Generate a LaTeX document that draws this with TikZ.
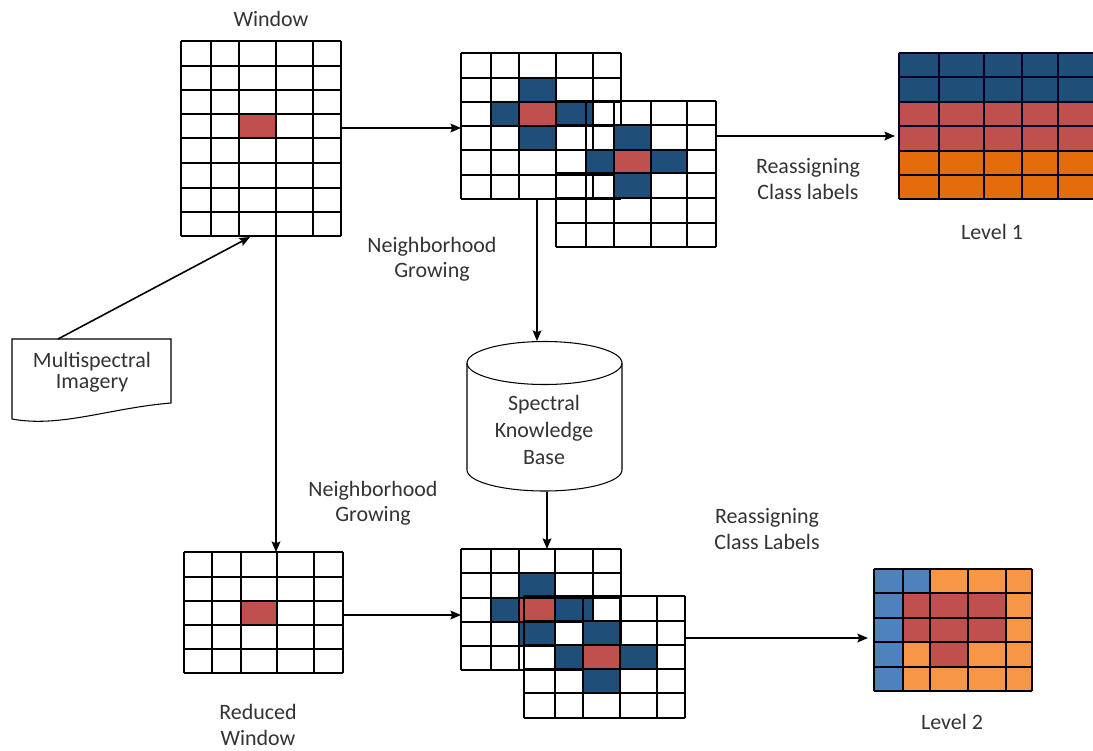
\documentclass[tikz,border=0pt]{standalone}
\usepackage{fontspec}
\setmainfont{Carlito}
\usetikzlibrary{arrows.meta}

\definecolor{cellred}{HTML}{C0504D}
\definecolor{cellnavy}{HTML}{1F4E79}
\definecolor{cellorange}{HTML}{E46C0A}
\definecolor{cellblue}{HTML}{4F81BD}
\definecolor{celllight}{HTML}{F79646}

\tikzset{
  lbl/.style={text=black!80, font=\fontsize{12.5}{14.5}\selectfont, align=center, inner sep=0pt},
  arr/.style={-{Stealth[length=6pt,width=5pt,inset=1pt]}, line width=0.9pt},
  gridline/.style={line width=0.9pt},
  outline/.style={line width=0.6pt}
}

\begin{document}
\begin{tikzpicture}[x=0.02cm, y=-0.02cm]
    \useasboundingbox (0,0) rectangle (1093,751);

    % define coordinates
    \coordinate (win_R) at (341,128) ;
    \coordinate (topA_L) at (461,128) ;
    \coordinate (topB_R) at (716,136) ;
    \coordinate (lev1_L) at (895,136) ;
    \coordinate (topA_B) at (537,199) ;
    \coordinate (kb_T) at (537,341) ;
    \coordinate (kb_B) at (547,492) ;
    \coordinate (botA_T) at (547,549) ;
    \coordinate (win_B) at (276,236) ;
    \coordinate (small_T) at (276,552) ;
    \coordinate (small_R) at (343,615) ;
    \coordinate (botA_L) at (461,615) ;
    \coordinate (botB_R) at (685,638) ;
    \coordinate (lev2_L) at (868,638) ;
    \coordinate (img_T) at (58,339) ;
    \coordinate (win_Bl) at (250,237) ;

    % window
    \fill[cellred] (239,114) rectangle (276,138);
    \foreach \x in {181,211,239,276,313,341} \draw[gridline] (\x,41) -- (\x,236);
    \foreach \y in {41,66,90,114,138,163,188,212,236} \draw[gridline] (181,\y) -- (341,\y);

    % neighborhood growing, top
    \fill[cellred] (519,102) rectangle (556,126);
    \fill[cellnavy] (519,78) rectangle (556,102);
    \fill[cellnavy] (491,102) rectangle (519,126);
    \fill[cellnavy] (556,102) rectangle (593,126);
    \fill[cellnavy] (519,126) rectangle (556,150);
    \foreach \x in {461,491,519,556,593,621} \draw[gridline] (\x,53) -- (\x,199);
    \foreach \y in {53,78,102,126,150,175,199} \draw[gridline] (461,\y) -- (621,\y);

    \fill[cellred] (614,150) rectangle (651,173);
    \fill[cellnavy] (614,125) rectangle (651,150);
    \fill[cellnavy] (586,150) rectangle (614,173);
    \fill[cellnavy] (651,150) rectangle (687,173);
    \fill[cellnavy] (614,173) rectangle (651,198);
    \foreach \x in {556,586,614,651,687,716} \draw[gridline] (\x,101) -- (\x,247);
    \foreach \y in {101,125,150,173,198,223,247} \draw[gridline] (556,\y) -- (716,\y);

    % level 1
    \fill[cellnavy] (899,53) rectangle (1094,102);
    \fill[cellred] (899,102) rectangle (1094,151);
    \fill[cellorange] (899,151) rectangle (1094,199);
    \foreach \x in {899,939,984,1022,1058,1094} \draw[gridline,black!85!blue] (\x,53) -- (\x,199);
    \foreach \y in {53,77,102,126,151,175,199} \draw[gridline,black!85!blue] (899,\y) -- (1094,\y);

    % reduced window
    \fill[cellred] (241,601) rectangle (277,625);
    \foreach \x in {184,212,241,277,314,343} \draw[gridline] (\x,552) -- (\x,673);
    \foreach \y in {552,577,601,625,649,673} \draw[gridline] (184,\y) -- (343,\y);

    % neighborhood growing, bottom
    \fill[cellred] (519,598) rectangle (555,622);
    \fill[cellnavy] (519,573) rectangle (555,598);
    \fill[cellnavy] (491,598) rectangle (519,622);
    \fill[cellnavy] (555,598) rectangle (593,622);
    \fill[cellnavy] (519,622) rectangle (555,646);
    \foreach \x in {461,491,519,555,593,621} \draw[gridline] (\x,549) -- (\x,670);
    \foreach \y in {549,573,598,622,646,670} \draw[gridline] (461,\y) -- (621,\y);

    \fill[cellred] (583,645) rectangle (620,669);
    \fill[cellnavy] (583,621) rectangle (620,645);
    \fill[cellnavy] (555,645) rectangle (583,669);
    \fill[cellnavy] (620,645) rectangle (657,669);
    \fill[cellnavy] (583,669) rectangle (620,693);
    \foreach \x in {524,555,583,620,657,685} \draw[gridline] (\x,596) -- (\x,718);
    \foreach \y in {596,621,645,669,693,718} \draw[gridline] (524,\y) -- (685,\y);

    % level 2
    \fill[celllight] (874,569) rectangle (1032,691);
    \fill[cellblue] (874,569) rectangle (903,691);
    \fill[cellblue] (903,569) rectangle (930,593);
    \fill[cellred] (903,593) rectangle (1006,642);
    \fill[cellred] (930,642) rectangle (968,667);
    \foreach \x in {874,903,930,968,1006,1032} \draw[gridline] (\x,569) -- (\x,691);
    \foreach \y in {569,593,618,642,667,691} \draw[gridline] (874,\y) -- (1032,\y);

    % multispectral imagery (document)
    \draw[outline] (12,339) -- (171,339) -- (171,403)
        .. controls (110,408) and (60,428) .. (12,419) -- cycle;

    % knowledge base (cylinder)
    \draw[outline] (467,363) -- (467,470) arc[start angle=180, end angle=0, x radius=77.5, y radius=21] -- (622,363);
    \draw[outline] (544.5,363) ellipse [x radius=77.5, y radius=21.5];

    % labels
    \node[lbl] (win_lbl) at (271,19) {Window};
    \node[lbl] (grow_top) at (432,259) {Neighborhood\\Growing};
    \node[lbl] (reas_top) at (808,179) {Reassigning\\Class labels};
    \node[lbl] (lev1) at (992,232) {Level 1};
    \node[lbl] (grow_bot) at (373,503) {Neighborhood\\Growing};
    \node[lbl] (reas_bot) at (767,529) {Reassigning\\Class Labels};
    \node[lbl] (small_lbl) at (258,725) {Reduced\\Window};
    \node[lbl] (lev2) at (952,722) {Level 2};
    \node[lbl, font=\fontsize{12.5}{12}\selectfont] (img) at (92,372) {Multispectral\\Imagery};
    \node[lbl, font=\fontsize{12.5}{15.3}\selectfont] (kb) at (544,430) {Spectral\\Knowledge\\Base};

    % arrows
    \draw[arr] (win_R) -- (topA_L);
    \draw[arr] (topB_R) -- (lev1_L);
    \draw[arr] (topA_B) -- (kb_T);
    \draw[arr] (kb_B) -- (botA_T);
    \draw[arr] (win_B) -- (small_T);
    \draw[arr] (small_R) -- (botA_L);
    \draw[arr] (botB_R) -- (lev2_L);
    \draw[arr] (img_T) -- (win_Bl);

\end{tikzpicture}
\end{document}
